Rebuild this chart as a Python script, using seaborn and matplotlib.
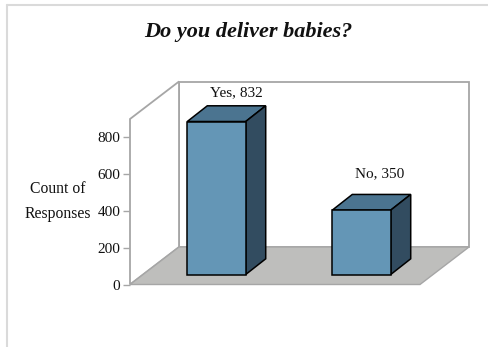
import matplotlib
matplotlib.use("Agg")
import matplotlib.pyplot as plt
from matplotlib.lines import Line2D
from matplotlib.patches import Polygon
import pandas as pd
import seaborn as sns

categories = ["Yes", "No"]
counts = [832, 350]
y_ticks = [0, 200, 400, 600, 800]
title = "Do you deliver babies?"
y_label = "Count of\nResponses"

W, H = 488, 347
FRONT, TOP, SIDE = "#6496B6", "#4B7490", "#324C60"
FLOOR, WALL = "#BEBEBC", "#A6A6A6"
LABEL_OFFSETS = [(0, 4.6), (-1.5, 10)]

sns.set_theme(style="white")
plt.rcParams["font.family"] = ["Liberation Serif", "DejaVu Serif"]
fig = plt.figure(figsize=(W / 100, H / 100), dpi=100, facecolor="white")
ax = fig.add_axes([130 / W, (H - 284.5) / H, 290 / W, 165.5 / H])
ax.patch.set_alpha(0)

df = pd.DataFrame({"answer": categories, "count": counts})
sns.barplot(data=df, x="answer", y="count", order=categories, width=0.403,
            color=FRONT, saturation=1, edgecolor="black", linewidth=1.1, ax=ax, zorder=5)
ax.set_xlim(-0.5, 1.5)
ax.set_ylim(0, 900)
ax.set_xlabel("")
ax.set_ylabel("")
ax.set_xticks([])
ax.set_yticks(y_ticks)
ax.tick_params(axis="y", length=5, width=1, color=WALL, pad=2, left=True,
               labelsize=11, labelcolor="#111111")
sns.despine(ax=ax, left=True, bottom=True)

# pixel depth converted to data units (145 px per category, 165.5 px per 900 counts)
def px(dx, dy):
    return dx / 145, dy * 900 / 165.5

wx, wy = px(49, 37.5)
x0, x1 = ax.get_xlim()
y1 = ax.get_ylim()[1]
kw = dict(clip_on=False, joinstyle="miter")

ax.add_patch(Polygon([(x0 + wx, wy), (x1 + wx, wy), (x1 + wx, y1 + wy), (x0 + wx, y1 + wy)],
                     facecolor="white", edgecolor=WALL, lw=1.3, zorder=1, **kw))
ax.add_patch(Polygon([(x0, 0), (x0 + wx, wy), (x0 + wx, y1 + wy), (x0, y1)],
                     facecolor="white", edgecolor=WALL, lw=1.3, zorder=1, **kw))
ax.add_patch(Polygon([(x0, 0), (x1, 0), (x1 + wx, wy), (x0 + wx, wy)],
                     facecolor=FLOOR, edgecolor=WALL, lw=1, zorder=2, **kw))

sx, sy = px(14, 10)    # bar position inside the floor
bx, by = px(20, 15.7)  # bar depth
bars = [p for p in ax.patches if p.get_zorder() == 5]
for bar, name, value, off in zip(bars, categories, counts, LABEL_OFFSETS):
    bar.set_x(bar.get_x() + sx)
    bar.set_y(sy)
    bar.set_clip_on(False)
    l, r = bar.get_x(), bar.get_x() + bar.get_width()
    b, t = sy, sy + value
    ax.add_patch(Polygon([(l, t), (r, t), (r + bx, t + by), (l + bx, t + by)],
                         facecolor=TOP, edgecolor="black", lw=1.1, zorder=4, **kw))
    ax.add_patch(Polygon([(r, b), (r + bx, b + by), (r + bx, t + by), (r, t)],
                         facecolor=SIDE, edgecolor="black", lw=1.1, zorder=4, **kw))
    ax.annotate(f"{name}, {value}", xy=((l + r) / 2 + bx, t + by), xytext=off,
                textcoords="offset points", ha="center", va="bottom",
                fontsize=11, color="#111111", annotation_clip=False, zorder=6)

fig.text(248 / W, (H - 32) / H, title, ha="center", va="center",
         fontsize=16, fontweight="bold", fontstyle="italic", color="#111111")
fig.text(58 / W, (H - 201.5) / H, y_label, ha="center", va="center",
         fontsize=11.3, color="#111111", linespacing=1.75)

frame = "#DADADA"
fig.add_artist(Line2D([7 / W, 1], [(H - 4.5) / H] * 2, color=frame, lw=1.5))
fig.add_artist(Line2D([7 / W] * 2, [0, (H - 4.5) / H], color=frame, lw=1.5))

fig.savefig("out.png", dpi=100)
